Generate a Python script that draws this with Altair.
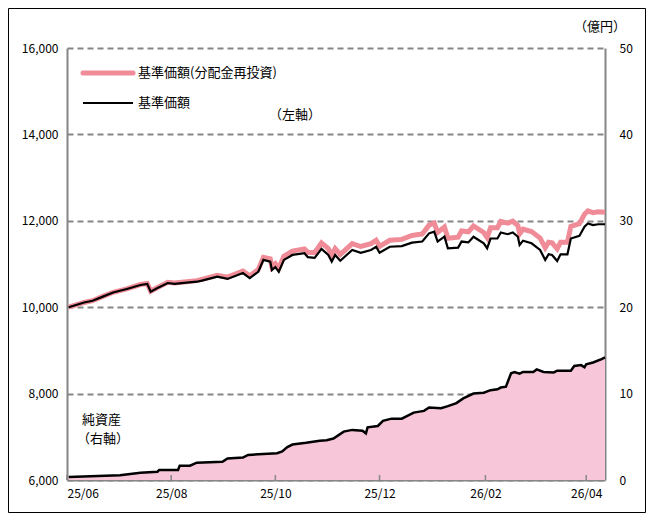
import altair as alt
import pandas as pd

# ---- data ----
nav_dates = [
    "2025-06-02", "2025-06-11", "2025-06-16", "2025-06-22", "2025-06-28", "2025-07-06",
    "2025-07-14", "2025-07-18", "2025-07-20", "2025-07-24", "2025-07-30", "2025-08-03",
    "2025-08-10", "2025-08-16", "2025-08-19", "2025-08-28", "2025-09-03", "2025-09-12",
    "2025-09-16", "2025-09-21", "2025-09-24", "2025-09-28", "2025-09-29", "2025-10-01",
    "2025-10-03", "2025-10-06", "2025-10-11", "2025-10-18", "2025-10-20", "2025-10-24",
    "2025-10-28", "2025-11-01", "2025-11-03", "2025-11-05", "2025-11-08", "2025-11-15",
    "2025-11-20", "2025-11-26", "2025-11-29", "2025-12-01", "2025-12-07", "2025-12-14",
    "2025-12-20", "2025-12-26", "2025-12-30", "2026-01-02", "2026-01-04", "2026-01-08",
    "2026-01-10", "2026-01-16", "2026-01-18", "2026-01-22", "2026-01-25", "2026-01-31",
    "2026-02-02", "2026-02-04", "2026-02-08", "2026-02-10", "2026-02-14", "2026-02-17",
    "2026-02-20", "2026-02-21", "2026-02-23", "2026-02-28", "2026-03-05", "2026-03-08",
    "2026-03-10", "2026-03-12", "2026-03-15", "2026-03-17", "2026-03-21", "2026-03-23",
    "2026-03-28", "2026-03-31", "2026-04-02", "2026-04-05", "2026-04-08", "2026-04-12",
]
nav_values = [
    10000, 10110, 10150, 10245, 10340, 10420, 10515, 10540, 10360, 10445, 10560, 10540,
    10570, 10590, 10615, 10705, 10655, 10790, 10675, 10820, 11095, 11055, 10860, 10930,
    10820, 11095, 11210, 11250, 11160, 11140, 11350, 11210, 11055, 11210, 11075, 11325,
    11260, 11325, 11400, 11260, 11400, 11415, 11495, 11520, 11710, 11750, 11520, 11635,
    11365, 11380, 11520, 11500, 11630, 11480, 11365, 11590, 11590, 11730, 11690, 11730,
    11630, 11440, 11540, 11480, 11325, 11095, 11225, 11210, 11070, 11225, 11225, 11590,
    11650, 11865, 11940, 11900, 11920, 11920,
]
reinvest_values = [
    10000, 10110, 10150, 10250, 10345, 10425, 10525, 10550, 10370, 10455, 10575, 10560,
    10590, 10615, 10645, 10740, 10695, 10835, 10725, 10875, 11155, 11120, 10930, 11005,
    10900, 11180, 11300, 11350, 11270, 11260, 11490, 11355, 11200, 11355, 11220, 11470,
    11405, 11470, 11550, 11410, 11550, 11570, 11660, 11695, 11900, 11950, 11730, 11855,
    11595, 11620, 11765, 11745, 11880, 11730, 11615, 11840, 11840, 11985, 11945, 11990,
    11890, 11700, 11805, 11750, 11600, 11375, 11505, 11490, 11350, 11505, 11505, 11870,
    11935, 12150, 12230, 12190, 12210, 12200,
]
asset_dates = [
    "2025-06-02", "2025-07-02", "2025-07-14", "2025-07-24", "2025-07-25", "2025-08-05",
    "2025-08-06", "2025-08-12", "2025-08-16", "2025-08-31", "2025-09-03", "2025-09-12",
    "2025-09-15", "2025-10-02", "2025-10-05", "2025-10-08", "2025-10-11", "2025-10-19",
    "2025-10-27", "2025-10-31", "2025-11-04", "2025-11-10", "2025-11-15", "2025-11-21",
    "2025-11-23", "2025-11-24", "2025-11-30", "2025-12-03", "2025-12-08", "2025-12-14",
    "2025-12-21", "2025-12-27", "2025-12-30", "2026-01-06", "2026-01-10", "2026-01-15",
    "2026-01-19", "2026-01-25", "2026-01-31", "2026-02-04", "2026-02-08", "2026-02-10",
    "2026-02-13", "2026-02-16", "2026-02-18", "2026-02-21", "2026-02-23", "2026-03-01",
    "2026-03-03", "2026-03-07", "2026-03-13", "2026-03-15", "2026-03-23", "2026-03-25",
    "2026-03-29", "2026-03-31", "2026-04-01", "2026-04-05", "2026-04-10", "2026-04-12",
]
asset_values = [
    0.35, 0.55, 0.85, 0.96, 1.16, 1.16, 1.66, 1.66, 2.0, 2.1, 2.5, 2.6,
    2.9, 3.1, 3.3, 3.8, 4.1, 4.3, 4.55, 4.6, 4.8, 5.6, 5.8, 5.7,
    5.4, 6.1, 6.25, 6.85, 7.1, 7.1, 7.8, 8.0, 8.4, 8.3, 8.55, 8.9,
    9.45, 10.0, 10.1, 10.4, 10.5, 10.7, 10.8, 12.35, 12.5, 12.3, 12.5, 12.5,
    12.8, 12.5, 12.45, 12.65, 12.65, 13.2, 13.3, 13.05, 13.4, 13.6, 14.0, 14.2,
]
x_tick_months = [(2025, 6), (2025, 8), (2025, 10), (2025, 12), (2026, 2), (2026, 4)]
left_ticks = [6000, 8000, 10000, 12000, 14000, 16000]
right_ticks = [0, 10, 20, 30, 40, 50]

series_nav = "基準価額"
series_reinv = "基準価額(分配金再投資)"
series_asset = "純資産"

PINK_LINE = "#F08C98"
PINK_FILL = "#F7C6D9"
GRAY = "#868686"
FONT = "Noto Sans CJK JP"

nav_df = pd.DataFrame({"date": nav_dates, "nav": nav_values, "reinv": reinvest_values})
asset_df = pd.DataFrame({"date": asset_dates, "asset": asset_values})
tick_df = pd.DataFrame({"date": [f"{y}-{m:02d}-01" for y, m in x_tick_months]})
one = pd.DataFrame({"a": [0]})

x_scale = alt.Scale(
    type="utc",
    domain=[alt.DateTime(year=2025, month=6, date=1, utc=True),
            alt.DateTime(year=2026, month=4, date=12, utc=True)],
)
x_axis = alt.Axis(
    title=None,
    values=[alt.DateTime(year=y, month=m, date=1, utc=True) for y, m in x_tick_months],
    labelExpr="utcFormat(datum.value, '%y/%m')",
    ticks=False, labelPadding=8, grid=False,
    domainColor=GRAY, domainWidth=2,
    labelFont=FONT, labelFontSize=12, labelColor="#000",
)
X = alt.X("date:T", scale=x_scale, axis=x_axis)

# right axis group: net assets area
right_axis = alt.Axis(
    orient="right", title=None, values=right_ticks, grid=False, ticks=False,
    labelPadding=14, domainColor=GRAY, domainWidth=2,
    labelFont=FONT, labelFontSize=12, labelColor="#000",
)
y_right_scale = alt.Scale(domain=[0, 50], nice=False, zero=True)
area = alt.Chart(asset_df).mark_area(color=PINK_FILL, opacity=1).encode(
    x=X, y=alt.Y("asset:Q", scale=y_right_scale, axis=right_axis)
)
area_line = alt.Chart(asset_df).mark_line(color="#000", strokeWidth=2.5).encode(
    x=X, y=alt.Y("asset:Q", scale=y_right_scale, axis=right_axis)
)
right_group = alt.layer(area, area_line)

# left axis group: NAV lines
left_axis = alt.Axis(
    orient="left", title=None, values=left_ticks, ticks=False, format=",d",
    labelPadding=9, domainColor=GRAY, domainWidth=2,
    grid=True, gridColor=GRAY, gridWidth=2, gridDash=[6, 4],
    labelFont=FONT, labelFontSize=12, labelColor="#000",
)
y_left_scale = alt.Scale(domain=[6000, 16000], nice=False, zero=False)
reinv_line = alt.Chart(nav_df).mark_line(color=PINK_LINE, strokeWidth=5).encode(
    x=X, y=alt.Y("reinv:Q", scale=y_left_scale, axis=left_axis)
)
nav_line = alt.Chart(nav_df).mark_line(color="#000", strokeWidth=2.2).encode(
    x=X, y=alt.Y("nav:Q", scale=y_left_scale, axis=left_axis)
)
inward_ticks = alt.Chart(tick_df).mark_rule(color=GRAY, strokeWidth=1.5).encode(
    x=X, y=alt.value(427), y2=alt.value(432)
)

def label(txt, x, y, align="left", size=13):
    return alt.Chart(one).mark_text(
        align=align, baseline="middle", font=FONT, fontSize=size, color="#000"
    ).encode(x=alt.value(x), y=alt.value(y), text=alt.value(txt))

leg_pink = alt.Chart(one).mark_rule(color=PINK_LINE, strokeWidth=5, strokeCap="round").encode(
    x=alt.value(16), x2=alt.value(66), y=alt.value(25)
)
leg_black = alt.Chart(one).mark_rule(color="#000", strokeWidth=2.2).encode(
    x=alt.value(16), x2=alt.value(66), y=alt.value(55)
)
frame = alt.Chart(one).mark_rect(fill=None, stroke="#000", strokeWidth=1).encode(
    x=alt.value(-58.5), x2=alt.value(578.5), y=alt.value(-39.5), y2=alt.value(464.5)
)
annotations = [
    leg_pink, leg_black,
    label(series_reinv, 71, 25),
    label(series_nav, 71, 55),
    label("（左軸）", 228, 67, align="center"),
    label(series_asset, 15, 372),
    label("（右軸）", 10, 391),
    label("（億円）", 533, -21, align="center"),
    frame,
]

left_group = alt.layer(reinv_line, nav_line, inward_ticks, *annotations)

chart = alt.layer(right_group, left_group).resolve_scale(y="independent").properties(
    width=538, height=432,
    autosize=alt.AutoSizeParams(type="none"),
    padding={"left": 59, "top": 40, "right": 41, "bottom": 33},
    background="white",
).configure_view(stroke=None)

chart.save("out.html", embed_options={"renderer": "svg", "actions": False})
